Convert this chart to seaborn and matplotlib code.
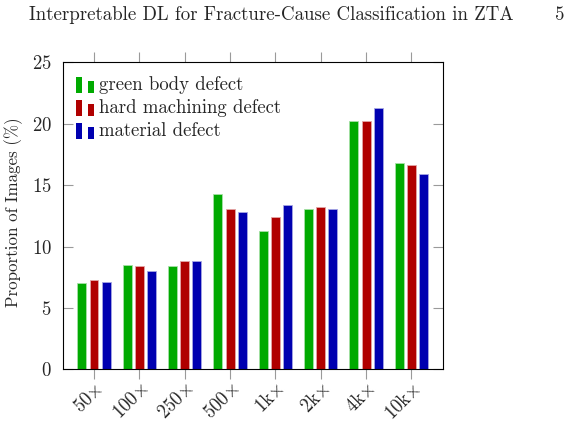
import matplotlib
matplotlib.use("Agg")
import matplotlib.pyplot as plt
import matplotlib.colors as mcolors
from matplotlib.patches import Rectangle
from matplotlib.legend_handler import HandlerBase
import seaborn as sns
import pandas as pd
import numpy as np

magnifications = ["50$\\times$", "100$\\times$", "250$\\times$", "500$\\times$",
                  "1k$\\times$", "2k$\\times$", "4k$\\times$", "10k$\\times$"]
classes = ["green body defect", "hard machining defect", "material defect"]
green_body = [7.00, 8.50, 8.39, 14.28, 11.26, 13.03, 20.20, 16.83]
hard_machining = [7.27, 8.41, 8.82, 13.03, 12.43, 13.19, 20.20, 16.64]
material = [7.11, 7.98, 8.85, 12.78, 13.36, 13.06, 21.28, 15.91]
colors = ["#00AA00", "#B00000", "#0000B0"]

sns.set_theme(style="white")
plt.rcParams["font.family"] = ["cmr10", "DejaVu Serif"]
plt.rcParams["mathtext.fontset"] = "cm"
plt.rcParams["axes.formatter.use_mathtext"] = True

FS = 13.5

rows = []
for cls, vals in zip(classes, [green_body, hard_machining, material]):
    for m, v in zip(magnifications, vals):
        rows.append({"mag": m, "cls": cls, "val": v})
df = pd.DataFrame(rows)

fig = plt.figure(figsize=(5.73, 4.22), dpi=100)
ax = fig.add_axes([62.7 / 573, 1 - 369.3 / 422, (442.7 - 62.7) / 573, (369.3 - 62.3) / 422])

sns.barplot(data=df, x="mag", y="val", hue="cls", order=magnifications,
            hue_order=classes, palette=colors, width=0.8, gap=0.26,
            saturation=1, ax=ax, legend=False)
for p in ax.patches:
    fc = np.array(mcolors.to_rgb(p.get_facecolor()))
    p.set_edgecolor(tuple(fc * 0.35 + 0.65))
    p.set_linewidth(0.6)

ax.set_xlim(-0.69, 7.69)
ax.set_ylim(0, 25)
ax.set_yticks([0, 5, 10, 15, 20, 25])
ax.set_xlabel("")
ax.set_ylabel("Proportion of Images (%)", fontsize=12.2)
ax.yaxis.set_label_coords(-(62.7 - 23) / 380, (369.3 - 212) / 307)
for s in ax.spines.values():
    s.set_color("black")
    s.set_linewidth(0.8)
    s.set_visible(True)

ax.tick_params(axis="x", direction="out", top=True, bottom=True, length=7,
               width=0.8, color="#9a9a9a", labelsize=FS, pad=1)
ax.tick_params(axis="y", direction="in", left=True, right=True, length=7,
               width=0.8, color="#9a9a9a", labelsize=FS, pad=8)
ax.set_xticks(range(len(magnifications)))
ax.set_xticklabels(magnifications, rotation=45, ha="right", rotation_mode="anchor")


class TwoBarHandler(HandlerBase):
    def create_artists(self, legend, orig_handle, xdescent, ydescent, width, height, fontsize, trans):
        c = orig_handle.get_facecolor()
        w = width * 0.34
        r1 = Rectangle((-xdescent, -ydescent - 0.15 * fontsize), w, 0.82 * fontsize,
                       facecolor=c, edgecolor="none", transform=trans)
        r2 = Rectangle((-xdescent + width * 0.66, -ydescent - 0.15 * fontsize), w, 0.62 * fontsize,
                       facecolor=c, edgecolor="none", transform=trans)
        return [r1, r2]


handles = [Rectangle((0, 0), 1, 1, facecolor=c) for c in colors]
ax.legend(handles, classes, handler_map={Rectangle: TwoBarHandler()},
          loc="upper left", frameon=False, fontsize=FS, handlelength=0.96,
          handletextpad=0.27, labelspacing=0.27, borderaxespad=0.0,
          bbox_to_anchor=(0.015, 0.98))

fig.text(29 / 573, 1 - 19.5 / 422, "Interpretable DL for Fracture-Cause Classification in ZTA",
         fontsize=13.6, ha="left", va="baseline")
fig.text(564 / 573, 1 - 19.5 / 422, "5", fontsize=13.6, ha="right", va="baseline")

fig.savefig("out.png", dpi=100)
